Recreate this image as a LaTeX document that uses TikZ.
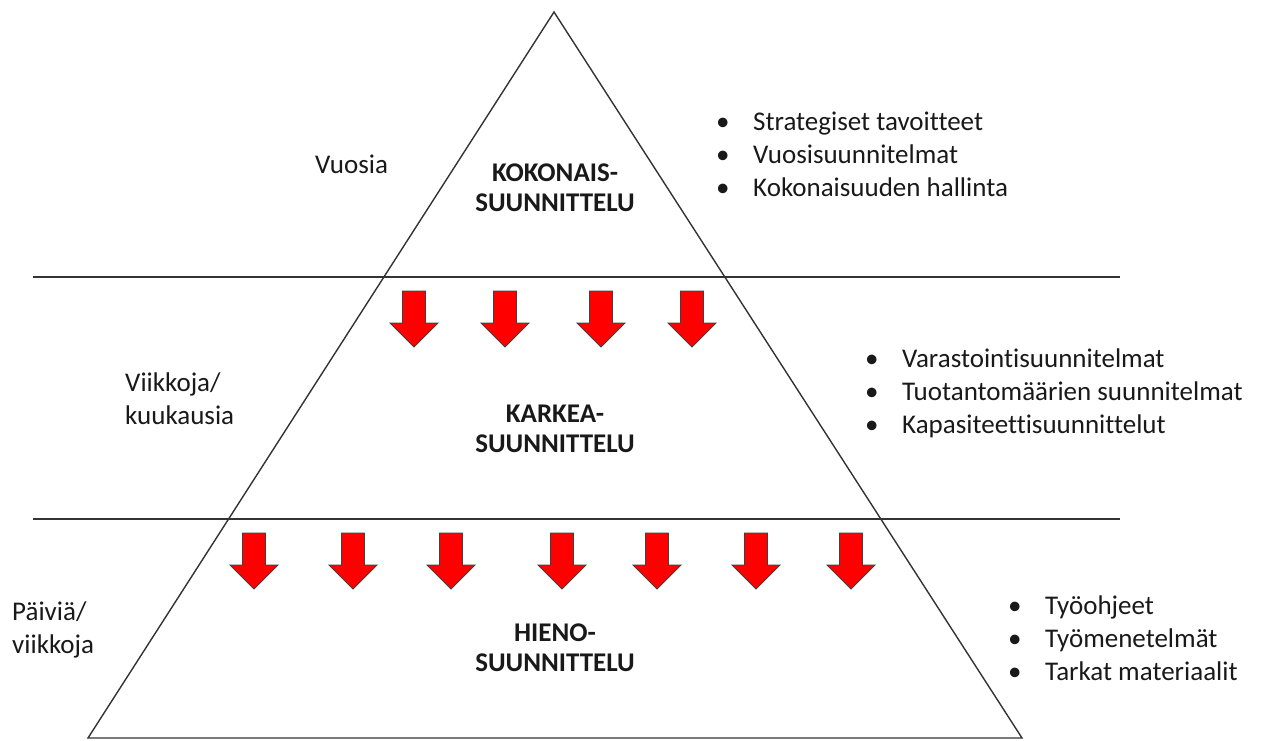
\documentclass[tikz,border=0pt]{standalone}
\usepackage{fontspec}
\setmainfont{Carlito}[Ligatures=NoCommon]
\begin{document}
\begin{tikzpicture}[x=1pt,y=-1pt,
  edge/.style={draw=black!80,line width=1.4pt},
  lbl/.style={font=\fontsize{27}{33}\selectfont,align=left,inner sep=0pt,text=black!90},
  ttl/.style={font=\fontsize{27}{30}\selectfont\bfseries,align=center,inner sep=0pt,text=black!90},
  blist/.style={font=\fontsize{27}{33}\selectfont,align=left,inner sep=0pt,text=black!90,anchor=west},
  downarrow/.pic={\draw[draw=black!75,line width=0.8pt,fill=red,line join=miter]
     (-11.5,0) -- (11.5,0) -- (11.5,32) -- (24,32) -- (0,56) -- (-24,32) -- (-11.5,32) -- cycle;}
]
\useasboundingbox (0,0) rectangle (1272,740);
% pyramid
\coordinate (apex) at (554,12);
\coordinate (bl) at (88,738);
\coordinate (br) at (1022,738);
\draw[edge,line join=miter] (bl) -- (apex) -- (br) -- cycle;
% level lines
\coordinate (l1a) at (33,277);
\coordinate (l1b) at (1120,277);
\coordinate (l2a) at (33,519);
\coordinate (l2b) at (1120,519);
\draw[edge] (l1a) -- (l1b);
\draw[edge] (l2a) -- (l2b);
% arrows
\foreach \x in {414,505,601,692} \pic at (\x,291) {downarrow};
\foreach \x in {254,353,451,562,657,756,851} \pic at (\x,533) {downarrow};
% titles
\node[ttl] (t1) at (555,188) {KOKONAIS-\\SUUNNITTELU};
\node[ttl] (t2) at (555,429) {KARKEA-\\SUUNNITTELU};
\node[ttl] (t3) at (555,648) {HIENO-\\SUUNNITTELU};
% left labels
\node[lbl,anchor=west] (h1) at (315,164) {Vuosia};
\node[lbl,anchor=west] (h2) at (125,399) {Viikkoja/\\kuukausia};
\node[lbl,anchor=west] (h3) at (12,630) {Päiviä/\\viikkoja};
% bullet lists
\newcommand{\bul}{\makebox[36pt][l]{\hspace{-1pt}•}}
\node[blist] (b1) at (717,154) {\bul Strategiset tavoitteet\\\bul Vuosisuunnitelmat\\\bul Kokonaisuuden hallinta};
\node[blist] (b2) at (866,393) {\bul Varastointisuunnitelmat\\\bul Tuotantomäärien suunnitelmat\\\bul Kapasiteettisuunnittelut};
\node[blist] (b3) at (1009,638) {\bul Työohjeet\\\bul Työmenetelmät\\\bul Tarkat materiaalit};
\end{tikzpicture}
\end{document}
